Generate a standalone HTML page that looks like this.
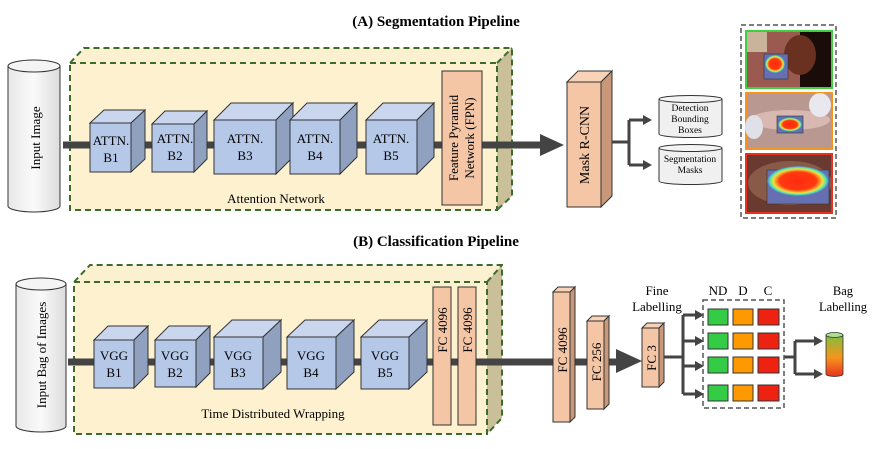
<!DOCTYPE html>
<html><head><meta charset="utf-8"><style>
html,body{margin:0;padding:0;background:#fff;}
svg{display:block;font-family:"Liberation Serif",serif;}
</style></head><body>
<svg width="872" height="449" viewBox="0 0 872 449" xmlns="http://www.w3.org/2000/svg">
<defs>
<linearGradient id="cylg" x1="0" y1="0" x2="1" y2="0">
<stop offset="0" stop-color="#e8e8e8"/><stop offset="0.5" stop-color="#fafafa"/><stop offset="1" stop-color="#dcdcdc"/></linearGradient>
<linearGradient id="bag" x1="0" y1="0" x2="0" y2="1">
<stop offset="0" stop-color="#7fbf3f"/><stop offset="0.55" stop-color="#f7941d"/><stop offset="1" stop-color="#e8321e"/></linearGradient>
<radialGradient id="heat" cx="0.5" cy="0.5" r="0.5">
<stop offset="0" stop-color="#ff2a10"/><stop offset="0.6" stop-color="#ff3a10"/><stop offset="0.8" stop-color="#f0e040"/><stop offset="0.92" stop-color="#40e0c0"/><stop offset="1" stop-color="#6070d0" stop-opacity="0.6"/></radialGradient>
</defs>

<text x="436" y="26" font-size="15" font-weight="bold" text-anchor="middle">(A) Segmentation Pipeline</text>
<text x="436" y="246" font-size="15" font-weight="bold" text-anchor="middle">(B) Classification Pipeline</text>

<path d="M8,66 L8,206 A26,6 0 0 0 60,206 L60,66" fill="url(#cylg)" stroke="#333" stroke-width="1"/>
<ellipse cx="34" cy="66" rx="26" ry="6" fill="#f4f4f4" stroke="#333"/>
<text transform="translate(40,138) rotate(-90)" font-size="13" text-anchor="middle">Input Image</text>

<polygon points="70,63 84,48 512,48 497,63" fill="#fbf0cf"/>
<polygon points="497,63 512,48 512,196 497,210" fill="#c9bf98"/>
<rect x="70" y="63" width="427" height="147" fill="#fdf1cf"/>
<path d="M70,63 L84,48 L512,48 L512,196 L497,210 M497,63 L512,48" fill="none" stroke="#3d6b2a" stroke-width="2" stroke-dasharray="6,4"/>
<rect x="70" y="63" width="427" height="147" fill="none" stroke="#3d6b2a" stroke-width="2" stroke-dasharray="6,4"/>

<line x1="63" y1="145" x2="548" y2="145" stroke="#444" stroke-width="7"/>
<polygon points="540,134 564,145 540,156" fill="#444"/>

<g stroke="#333" stroke-width="1">
<polygon points="90,123 104,110 145,110 131,123" fill="#c9d6ee"/><polygon points="131,123 145,110 145,159 131,172" fill="#8fa1bf"/><rect x="90" y="123" width="41" height="49" fill="#b5c8e8"/>
<polygon points="152,124 165,111 207,111 194,124" fill="#c9d6ee"/><polygon points="194,124 207,111 207,159 194,172" fill="#8fa1bf"/><rect x="152" y="124" width="42" height="48" fill="#b5c8e8"/>
<polygon points="214,120 231,103 293,103 276,120" fill="#c9d6ee"/><polygon points="276,120 293,103 293,157 276,174" fill="#8fa1bf"/><rect x="214" y="120" width="62" height="54" fill="#b5c8e8"/>
<polygon points="290,120 307,103 357,103 340,120" fill="#c9d6ee"/><polygon points="340,120 357,103 357,157 340,174" fill="#8fa1bf"/><rect x="290" y="120" width="50" height="54" fill="#b5c8e8"/>
<polygon points="366,120 383,103 434,103 417,120" fill="#c9d6ee"/><polygon points="417,120 434,103 434,157 417,174" fill="#8fa1bf"/><rect x="366" y="120" width="51" height="54" fill="#b5c8e8"/>
</g>
<g font-size="13" text-anchor="middle">
<text x="111" y="145">ATTN.</text><text x="111" y="162">B1</text>
<text x="175" y="143">ATTN.</text><text x="175" y="160">B2</text>
<text x="245" y="143">ATTN.</text><text x="245" y="160">B3</text>
<text x="315" y="143">ATTN.</text><text x="315" y="160">B4</text>
<text x="391" y="143">ATTN.</text><text x="391" y="160">B5</text>
</g>
<text x="276" y="203" font-size="13" text-anchor="middle">Attention Network</text>

<rect x="442" y="71" width="40" height="134" fill="#f5c6a5" stroke="#333"/>
<text transform="translate(458,138) rotate(-90)" font-size="13" text-anchor="middle">Feature Pyramid</text>
<text transform="translate(474,138) rotate(-90)" font-size="13" text-anchor="middle">Network (FPN)</text>

<g stroke="#333">
<polygon points="567,82 578,71 612,71 601,82" fill="#f8d3b8"/>
<polygon points="601,82 612,71 612,196 601,207" fill="#c9987a"/>
<rect x="567" y="82" width="34" height="125" fill="#f5c6a5"/>
</g>
<text transform="translate(589,145) rotate(-90)" font-size="14" text-anchor="middle">Mask R-CNN</text>

<g stroke="#444" stroke-width="3" fill="none">
<path d="M612,142 L629,142 M629,120 L629,165 M629,120 L645,120 M629,165 L645,165"/>
</g>
<polygon points="643,115 652,120 643,125" fill="#444"/>
<polygon points="643,160 652,165 643,170" fill="#444"/>

<path d="M659,99 L659,134 A31.5,3.5 0 0 0 722,134 L722,99" fill="#f0f0f0" stroke="#333"/>
<ellipse cx="690.5" cy="99" rx="31.5" ry="3.5" fill="#f4f4f4" stroke="#333"/>
<text x="690" y="111" font-size="9.5" text-anchor="middle">Detection</text>
<text x="690" y="122" font-size="9.5" text-anchor="middle">Bounding</text>
<text x="690" y="133" font-size="9.5" text-anchor="middle">Boxes</text>
<path d="M659,148 L659,181 A31.5,3.5 0 0 0 722,181 L722,148" fill="#f0f0f0" stroke="#333"/>
<ellipse cx="690.5" cy="148" rx="31.5" ry="3.5" fill="#f4f4f4" stroke="#333"/>
<text x="690" y="162" font-size="9.5" text-anchor="middle">Segmentation</text>
<text x="690" y="173" font-size="9.5" text-anchor="middle">Masks</text>

<rect x="741" y="25" width="95" height="193" fill="none" stroke="#555" stroke-width="1.5" stroke-dasharray="5,3"/>
<rect x="746" y="31" width="86" height="57" fill="#9a5a50" stroke="#3fcf3f" stroke-width="2"/>
<rect x="800" y="32" width="31" height="55" fill="#1a0c08"/>
<ellipse cx="800" cy="55" rx="16" ry="20" fill="#6a3020"/>
<rect x="747" y="32" width="20" height="20" fill="#c9b39a"/>
<rect x="764" y="54" width="24" height="25" fill="#6670b0" stroke="#333" stroke-width="0.6"/>
<ellipse cx="775" cy="64" rx="10" ry="9" fill="url(#heat)"/>
<rect x="746" y="93" width="86" height="56" fill="#b89890" stroke="#f7941d" stroke-width="2"/>
<ellipse cx="790" cy="120" rx="40" ry="10" fill="#d8b8b0"/>
<ellipse cx="820" cy="105" rx="11" ry="12" fill="#e8e8ee"/>
<ellipse cx="754" cy="127" rx="9" ry="12" fill="#e0e0e8"/>
<rect x="777" y="116" width="26" height="17" fill="#6670b0" stroke="#333" stroke-width="0.6"/>
<ellipse cx="790" cy="124.5" rx="12" ry="7" fill="url(#heat)"/>
<rect x="746" y="154" width="86" height="59" fill="#6a3a30" stroke="#e8321e" stroke-width="2"/>
<ellipse cx="790" cy="183" rx="42" ry="22" fill="#8a5a48"/>
<rect x="767" y="170" width="62" height="34" fill="#6670b0" stroke="#333" stroke-width="0.6"/>
<ellipse cx="798" cy="181" rx="31" ry="15" fill="url(#heat)"/>

<path d="M16,284 L16,426 A25,6 0 0 0 66,426 L66,284" fill="url(#cylg)" stroke="#333"/>
<ellipse cx="41" cy="284" rx="25" ry="6" fill="#f4f4f4" stroke="#333"/>
<text transform="translate(46,355) rotate(-90)" font-size="13" text-anchor="middle">Input Bag of Images</text>

<polygon points="74,282 90,265 502,265 487,282" fill="#fbf0cf"/>
<polygon points="487,282 502,265 502,418 487,434" fill="#c9bf98"/>
<rect x="74" y="282" width="413" height="152" fill="#fdf1cf"/>
<path d="M74,282 L90,265 L502,265 L502,418 L487,434 M487,282 L502,265" fill="none" stroke="#3d6b2a" stroke-width="2" stroke-dasharray="6,4"/>
<rect x="74" y="282" width="413" height="152" fill="none" stroke="#3d6b2a" stroke-width="2" stroke-dasharray="6,4"/>

<line x1="68" y1="362" x2="620" y2="362" stroke="#444" stroke-width="7"/>
<polygon points="616,349 642,361 616,373" fill="#444"/>

<g stroke="#333" stroke-width="1">
<polygon points="94,340 108,326 148,326 134,340" fill="#c9d6ee"/><polygon points="134,340 148,326 148,374 134,388" fill="#8fa1bf"/><rect x="94" y="340" width="40" height="48" fill="#b5c8e8"/>
<polygon points="155,340 169,326 210,326 196,340" fill="#c9d6ee"/><polygon points="196,340 210,326 210,373 196,387" fill="#8fa1bf"/><rect x="155" y="340" width="41" height="47" fill="#b5c8e8"/>
<polygon points="214,337 232,320 281,320 263,337" fill="#c9d6ee"/><polygon points="263,337 281,320 281,372 263,389" fill="#8fa1bf"/><rect x="214" y="337" width="49" height="52" fill="#b5c8e8"/>
<polygon points="287,337 305,320 354,320 336,337" fill="#c9d6ee"/><polygon points="336,337 354,320 354,372 336,389" fill="#8fa1bf"/><rect x="287" y="337" width="49" height="52" fill="#b5c8e8"/>
<polygon points="361,337 379,320 427,320 409,337" fill="#c9d6ee"/><polygon points="409,337 427,320 427,372 409,389" fill="#8fa1bf"/><rect x="361" y="337" width="48" height="52" fill="#b5c8e8"/>
</g>
<g font-size="13" text-anchor="middle">
<text x="114" y="360">VGG</text><text x="114" y="377">B1</text>
<text x="175" y="360">VGG</text><text x="175" y="377">B2</text>
<text x="238" y="360">VGG</text><text x="238" y="377">B3</text>
<text x="311" y="360">VGG</text><text x="311" y="377">B4</text>
<text x="385" y="360">VGG</text><text x="385" y="377">B5</text>
</g>
<text x="273" y="418" font-size="13" text-anchor="middle">Time Distributed Wrapping</text>

<rect x="433" y="287" width="18" height="138" fill="#f5c6a5" stroke="#333"/>
<text transform="translate(447,330) rotate(-90)" font-size="13" text-anchor="middle">FC 4096</text>
<rect x="458" y="287" width="18" height="138" fill="#f5c6a5" stroke="#333"/>
<text transform="translate(472,330) rotate(-90)" font-size="13" text-anchor="middle">FC 4096</text>

<g stroke="#333">
<polygon points="553,292 558,287 575,287 570,292" fill="#f8d3b8"/>
<polygon points="570,292 575,287 575,417 570,422" fill="#c9987a"/>
<rect x="553" y="292" width="17" height="130" fill="#f5c6a5"/>
<polygon points="587,321 592,316 609,316 604,321" fill="#f8d3b8"/>
<polygon points="604,321 609,316 609,404 604,409" fill="#c9987a"/>
<rect x="587" y="321" width="17" height="88" fill="#f5c6a5"/>
</g>
<text transform="translate(567,350) rotate(-90)" font-size="13" text-anchor="middle">FC 4096</text>
<text transform="translate(601,362) rotate(-90)" font-size="13" text-anchor="middle">FC 256</text>

<g stroke="#333">
<polygon points="642,328 647,323 664,323 659,328" fill="#f8d3b8"/>
<polygon points="659,328 664,323 664,382 659,387" fill="#c9987a"/>
<rect x="642" y="328" width="17" height="59" fill="#f5c6a5"/>
</g>
<text transform="translate(656,358) rotate(-90)" font-size="13" text-anchor="middle">FC 3</text>
<text x="657" y="295" font-size="13" text-anchor="middle">Fine</text>
<text x="657" y="311" font-size="13" text-anchor="middle">Labelling</text>

<g stroke="#444" stroke-width="3" fill="none">
<path d="M664,357 L683,357 M683,315 L683,394 M683,315 L697,315 M683,341 L697,341 M683,366 L697,366 M683,394 L697,394"/>
<path d="M784,357 L795,357 M795,341 L795,374 M795,341 L816,341 M795,374 L816,374"/>
</g>
<g fill="#444">
<polygon points="695,310 704,315 695,320"/><polygon points="695,336 704,341 695,346"/>
<polygon points="695,361 704,366 695,371"/><polygon points="695,389 704,394 695,399"/>
<polygon points="814,336 823,341 814,346"/><polygon points="814,369 823,374 814,379"/>
</g>

<rect x="703" y="300" width="81" height="108" fill="none" stroke="#555" stroke-width="1.5" stroke-dasharray="5,3"/>
<g stroke="#333" stroke-width="1">
<rect x="708" y="309" width="20" height="16" fill="#33cc44"/><rect x="733" y="309" width="20" height="16" fill="#ff9900"/><rect x="758" y="309" width="21" height="16" fill="#ee2211"/>
<rect x="708" y="333" width="20" height="16" fill="#33cc44"/><rect x="733" y="333" width="20" height="16" fill="#ff9900"/><rect x="758" y="333" width="21" height="16" fill="#ee2211"/>
<rect x="708" y="357" width="20" height="16" fill="#33cc44"/><rect x="733" y="357" width="20" height="16" fill="#ff9900"/><rect x="758" y="357" width="21" height="16" fill="#ee2211"/>
<rect x="708" y="385" width="20" height="16" fill="#33cc44"/><rect x="733" y="385" width="20" height="16" fill="#ff9900"/><rect x="758" y="385" width="21" height="16" fill="#ee2211"/>
</g>
<g font-size="13" text-anchor="middle">
<text x="718" y="295">ND</text><text x="743" y="295">D</text><text x="768" y="295">C</text>
</g>
<g font-size="12.5" text-anchor="middle">
<text x="843" y="295">Bag</text><text x="843" y="311">Labelling</text>
</g>

<path d="M826,335 L826,374 A8.5,2.5 0 0 0 843,374 L843,335" fill="url(#bag)" stroke="#333" stroke-width="0.8"/>
<ellipse cx="834.5" cy="335" rx="8.5" ry="2.5" fill="#a8e090" stroke="#333" stroke-width="0.8"/>
</svg>
</body></html>
